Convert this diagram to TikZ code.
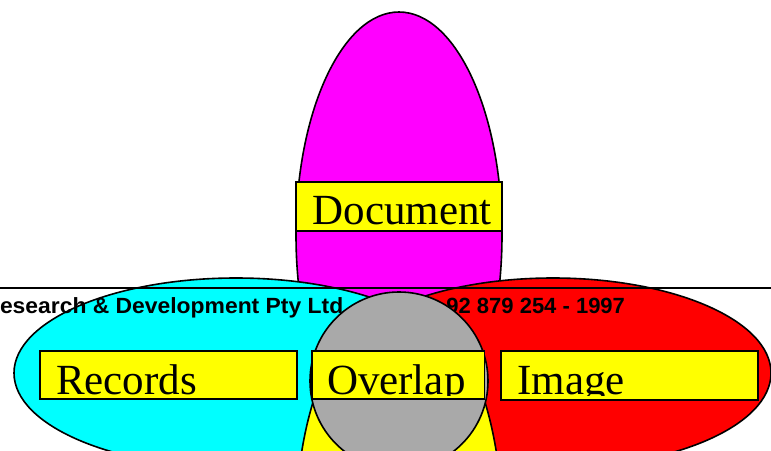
\documentclass[tikz,border=0pt]{standalone}
\usepackage{fontspec}
\setmainfont{Liberation Serif}
\setsansfont{Liberation Sans}
\definecolor{circlegray}{RGB}{169,169,169}
\definecolor{pmagenta}{RGB}{255,0,255}
\definecolor{pcyan}{RGB}{0,255,255}
\definecolor{pred}{RGB}{255,0,0}
\definecolor{pyellow}{RGB}{255,255,0}
\begin{document}
\begin{tikzpicture}[x=1pt,y=-1pt,
  outline/.style={draw=black, line width=1.6pt},
  labelbox/.style={draw=black, fill=pyellow, line width=1.8pt, inner sep=0pt, outer sep=0pt, rectangle},
  labeltext/.style={font=\fontsize{43}{50}\selectfont, inner sep=0pt, outer sep=0pt, anchor=base west},
  notetext/.style={font=\sffamily\bfseries\fontsize{22}{26}\selectfont, inner sep=0pt, outer sep=0pt}]
\useasboundingbox (0,0) rectangle (771,450);
\begin{scope}
\clip (0,0) rectangle (771,450);
% ellipses
\filldraw[fill=pmagenta, outline] (399,235) ellipse [x radius=103, y radius=223];
\filldraw[fill=pcyan, outline] (236,373) ellipse [x radius=222, y radius=95];
\filldraw[fill=pred, outline] (553,373) ellipse [x radius=218, y radius=95];
\coordinate (lineL) at (0,287.5);
\coordinate (lineR) at (771,287.5);
\draw[line width=2pt] (lineL) -- (lineR);
\filldraw[fill=pyellow, outline] (399,525) ellipse [x radius=103, y radius=223];
% notes
\node[notetext, anchor=base west] (firm) at (0,313) {\scalebox{1.04}[1]{esearch \& Development Pty Ltd}};
\node[notetext, anchor=base east] (acn) at (625,313) {92 879 254 - 1997};
% centre circle
\filldraw[fill=circlegray, outline] (399,381) circle [radius=89];
\end{scope}
% label boxes
\node[labelbox, minimum width=257pt, minimum height=48.3pt] (recordsbox) at (168.5,375.2) {};
\node[labelbox, minimum width=172.2pt, minimum height=48.3pt] (overlapbox) at (398.4,375.2) {};
\node[labelbox, minimum width=257pt, minimum height=49pt] (imagebox) at (629.2,375.5) {};
\node[labelbox, minimum width=205.7pt, minimum height=49pt] (documentbox) at (398.85,206.5) {};
\begin{scope}
\clip (40,351) rectangle (297,395.5);
\node[labeltext] (records) at (56,394.8) {Records};
\end{scope}
\begin{scope}
\clip (312.3,351) rectangle (484.5,395.5);
\node[labeltext] (overlap) at (327,394.5) {Overlap};
\end{scope}
\begin{scope}
\clip (500.7,351) rectangle (757.7,395.5);
\node[labeltext] (image) at (517.5,394.5) {Image};
\end{scope}
\node[labeltext] (document) at (312.5,224.5) {Document};
\end{tikzpicture}
\end{document}
